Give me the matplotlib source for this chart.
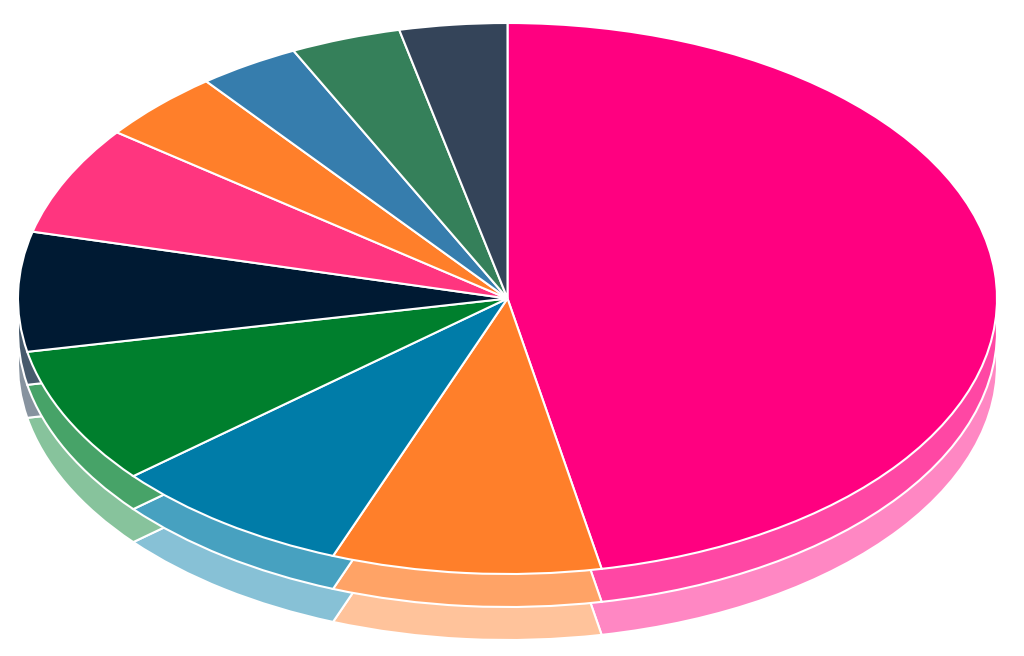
"""Three stacked pies squashed into ellipses to fake a 3D pie."""

import matplotlib

matplotlib.use("Agg")
import matplotlib.pyplot as plt
from matplotlib.colors import to_rgb

# Slice sizes, clockwise from 12 o'clock (percent)
values = [46.92, 8.88, 8.05, 8.05, 7.0, 6.4, 4.15, 3.35, 3.65, 3.55]
colors = [
    "#FF0080",
    "#FF7F2A",
    "#007CA8",
    "#007F2D",
    "#001A33",
    "#FF357F",
    "#FF7F2A",
    "#367DAD",
    "#35805A",
    "#344459",
]
layer_strengths = [0.47, 0.72, 1.0]

W, H = 1024, 656
center_x, center_y = 507.5, 298.5
radius_x, radius_y = 489.5, 275.5
layer_gap = 33


def fade(color, strength):
    # mix with white, so the layers stay opaque and the white edges stay white
    return tuple(strength * c + (1 - strength) for c in to_rgb(color))


fig = plt.figure(figsize=(W / 100, H / 100), dpi=100)
ax = fig.add_axes([0, 0, 1, 1])

for i, strength in enumerate(layer_strengths):
    depth = (len(layer_strengths) - 1 - i) * layer_gap / radius_y
    ax.pie(
        values,
        colors=[fade(c, strength) for c in colors],
        startangle=90,
        counterclock=False,
        center=(0, -depth),
        radius=1,
        wedgeprops=dict(edgecolor="white", linewidth=1.5),
        normalize=True,
    )

# pie forces equal aspect, undo it to get the ellipse
ax.set_aspect("auto")
ax.set_xlim(-center_x / radius_x, (W - center_x) / radius_x)
ax.set_ylim((center_y - H) / radius_y, center_y / radius_y)
ax.axis("off")

plt.savefig("out.png", dpi=100)
